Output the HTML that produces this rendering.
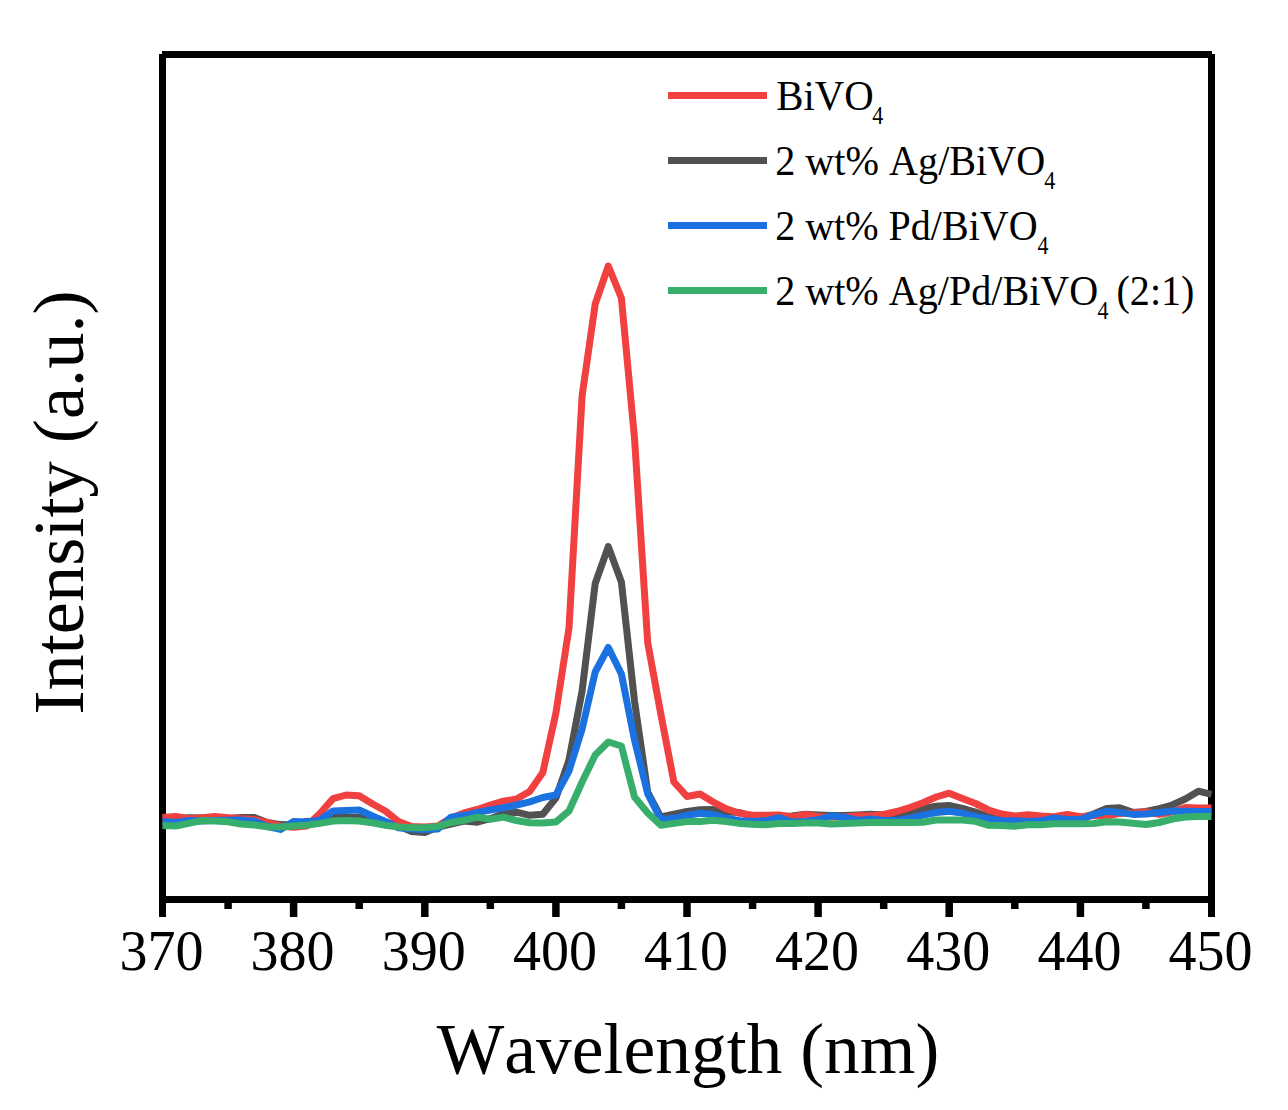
<!DOCTYPE html>
<html><head><meta charset="utf-8"><style>
html,body{margin:0;padding:0;background:#fff;}
svg{display:block;}
text{font-family:"Liberation Serif",serif;fill:#000;font-kerning:none;}
</style></head><body>
<svg width="1288" height="1110" viewBox="0 0 1288 1110">
<rect width="1288" height="1110" fill="#fff"/>
<g stroke="#000" stroke-width="7" fill="none">
<line x1="162" y1="54.5" x2="1212" y2="54.5"/>
<line x1="162" y1="899.5" x2="1212" y2="899.5"/>
<line x1="162.5" y1="54" x2="162.5" y2="917"/>
<line x1="1211.5" y1="54" x2="1211.5" y2="917"/>
</g>
<line x1="228.1" y1="899" x2="228.1" y2="909" stroke="#000" stroke-width="7.5"/><line x1="293.6" y1="899" x2="293.6" y2="917" stroke="#000" stroke-width="7.5"/><line x1="359.2" y1="899" x2="359.2" y2="909" stroke="#000" stroke-width="7.5"/><line x1="424.8" y1="899" x2="424.8" y2="917" stroke="#000" stroke-width="7.5"/><line x1="490.3" y1="899" x2="490.3" y2="909" stroke="#000" stroke-width="7.5"/><line x1="555.9" y1="899" x2="555.9" y2="917" stroke="#000" stroke-width="7.5"/><line x1="621.4" y1="899" x2="621.4" y2="909" stroke="#000" stroke-width="7.5"/><line x1="687.0" y1="899" x2="687.0" y2="917" stroke="#000" stroke-width="7.5"/><line x1="752.6" y1="899" x2="752.6" y2="909" stroke="#000" stroke-width="7.5"/><line x1="818.1" y1="899" x2="818.1" y2="917" stroke="#000" stroke-width="7.5"/><line x1="883.7" y1="899" x2="883.7" y2="909" stroke="#000" stroke-width="7.5"/><line x1="949.2" y1="899" x2="949.2" y2="917" stroke="#000" stroke-width="7.5"/><line x1="1014.8" y1="899" x2="1014.8" y2="909" stroke="#000" stroke-width="7.5"/><line x1="1080.4" y1="899" x2="1080.4" y2="917" stroke="#000" stroke-width="7.5"/><line x1="1145.9" y1="899" x2="1145.9" y2="909" stroke="#000" stroke-width="7.5"/>
<g font-size="56"><text x="161.5" y="970" text-anchor="middle">370</text><text x="292.6" y="970" text-anchor="middle">380</text><text x="423.8" y="970" text-anchor="middle">390</text><text x="554.9" y="970" text-anchor="middle">400</text><text x="686.0" y="970" text-anchor="middle">410</text><text x="817.1" y="970" text-anchor="middle">420</text><text x="948.2" y="970" text-anchor="middle">430</text><text x="1079.4" y="970" text-anchor="middle">440</text><text x="1210.5" y="970" text-anchor="middle">450</text></g>
<polyline points="162.5,819.0 175.6,819.0 188.7,817.7 201.8,818.0 214.9,818.0 228.1,818.5 241.2,817.5 254.3,817.6 267.4,822.5 280.5,824.6 293.6,825.0 306.7,821.5 319.9,821.0 333.0,817.6 346.1,817.6 359.2,817.6 372.3,819.0 385.4,822.0 398.5,826.0 411.6,831.5 424.8,832.4 437.9,827.0 451.0,824.0 464.1,821.0 477.2,822.2 490.3,818.7 503.4,813.7 516.5,812.2 529.7,815.3 542.8,814.3 555.9,798.0 569.0,760.0 582.1,691.0 595.2,583.5 608.3,546.6 621.4,582.0 634.5,701.0 647.7,792.0 660.8,817.0 673.9,814.3 687.0,811.5 700.1,809.8 713.2,809.6 726.3,812.0 739.5,812.5 752.6,816.5 765.7,816.5 778.8,816.5 791.9,816.0 805.0,814.3 818.1,815.0 831.2,815.6 844.4,815.6 857.5,815.0 870.6,814.3 883.7,815.0 896.8,816.0 909.9,813.1 923.0,808.8 936.1,806.3 949.2,805.4 962.4,808.3 975.5,812.0 988.6,817.0 1001.7,818.0 1014.8,818.5 1027.9,818.5 1041.0,818.5 1054.2,818.0 1067.3,818.0 1080.4,818.0 1093.5,814.0 1106.6,808.6 1119.7,807.8 1132.8,812.4 1145.9,811.4 1159.1,808.6 1172.2,805.0 1185.3,799.0 1198.4,791.2 1211.5,794.4" fill="none" stroke="#515151" stroke-width="7" stroke-linejoin="round" stroke-linecap="butt"/>
<polyline points="162.5,817.4 175.6,816.5 188.7,818.7 201.8,817.7 214.9,816.5 228.1,817.7 241.2,818.7 254.3,819.6 267.4,822.4 280.5,826.0 293.6,827.3 306.7,826.0 319.9,813.5 333.0,798.6 346.1,795.0 359.2,795.7 372.3,803.8 385.4,811.0 398.5,821.5 411.6,826.5 424.8,827.0 437.9,826.0 451.0,818.0 464.1,813.0 477.2,809.5 490.3,805.0 503.4,801.2 516.5,799.0 529.7,791.5 542.8,772.5 555.9,713.0 569.0,628.0 582.1,396.0 595.2,304.0 608.3,266.0 621.4,298.0 634.5,438.0 647.7,642.7 660.8,714.0 673.9,782.0 687.0,796.5 700.1,794.0 713.2,802.0 726.3,808.8 739.5,813.3 752.6,815.2 765.7,815.2 778.8,815.0 791.9,817.0 805.0,814.5 818.1,816.5 831.2,817.0 844.4,817.0 857.5,815.8 870.6,815.8 883.7,814.5 896.8,811.5 909.9,807.5 923.0,802.8 936.1,797.0 949.2,793.2 962.4,798.5 975.5,803.5 988.6,810.0 1001.7,814.0 1014.8,816.0 1027.9,814.8 1041.0,816.0 1054.2,816.7 1067.3,814.5 1080.4,816.8 1093.5,815.5 1106.6,816.0 1119.7,813.4 1132.8,813.0 1145.9,812.0 1159.1,814.4 1172.2,812.0 1185.3,807.5 1198.4,808.0 1211.5,808.0" fill="none" stroke="#F04040" stroke-width="7" stroke-linejoin="round" stroke-linecap="butt"/>
<polyline points="162.5,821.5 175.6,822.4 188.7,820.5 201.8,821.0 214.9,820.5 228.1,820.2 241.2,820.1 254.3,821.2 267.4,826.5 280.5,829.4 293.6,821.5 306.7,822.1 319.9,820.0 333.0,811.0 346.1,810.6 359.2,810.0 372.3,816.0 385.4,821.5 398.5,827.8 411.6,829.0 424.8,829.6 437.9,829.0 451.0,817.1 464.1,815.3 477.2,812.4 490.3,810.0 503.4,807.8 516.5,805.0 529.7,801.9 542.8,797.5 555.9,795.0 569.0,771.0 582.1,729.0 595.2,672.0 608.3,647.5 621.4,674.0 634.5,740.0 647.7,793.6 660.8,819.5 673.9,818.3 687.0,815.2 700.1,813.3 713.2,814.5 726.3,818.3 739.5,820.8 752.6,821.4 765.7,820.8 778.8,817.7 791.9,822.0 805.0,821.4 818.1,819.8 831.2,815.8 844.4,817.2 857.5,820.5 870.6,818.9 883.7,820.5 896.8,820.5 909.9,818.1 923.0,815.2 936.1,812.5 949.2,811.2 962.4,813.1 975.5,816.6 988.6,818.7 1001.7,820.8 1014.8,820.8 1027.9,821.4 1041.0,820.8 1054.2,818.0 1067.3,819.5 1080.4,819.5 1093.5,814.6 1106.6,811.3 1119.7,812.4 1132.8,814.4 1145.9,814.1 1159.1,812.6 1172.2,811.1 1185.3,811.3 1198.4,811.5 1211.5,811.5" fill="none" stroke="#1A71DF" stroke-width="7" stroke-linejoin="round" stroke-linecap="butt"/>
<polyline points="162.5,825.4 175.6,826.0 188.7,823.4 201.8,820.6 214.9,820.9 228.1,821.7 241.2,824.0 254.3,825.0 267.4,826.7 280.5,827.0 293.6,826.1 306.7,825.2 319.9,823.4 333.0,821.0 346.1,820.4 359.2,821.0 372.3,822.8 385.4,825.3 398.5,827.0 411.6,827.8 424.8,827.8 437.9,826.4 451.0,822.5 464.1,820.3 477.2,817.1 490.3,819.3 503.4,817.1 516.5,820.5 529.7,822.7 542.8,822.9 555.9,822.0 569.0,811.0 582.1,782.0 595.2,755.0 608.3,742.0 621.4,746.0 634.5,797.0 647.7,813.0 660.8,825.3 673.9,823.4 687.0,821.6 700.1,821.6 713.2,820.3 726.3,821.6 739.5,823.4 752.6,824.2 765.7,824.7 778.8,823.4 791.9,823.5 805.0,823.0 818.1,823.0 831.2,824.0 844.4,823.4 857.5,823.0 870.6,822.4 883.7,822.4 896.8,822.4 909.9,822.4 923.0,822.2 936.1,820.0 949.2,820.0 962.4,820.0 975.5,821.3 988.6,825.3 1001.7,825.6 1014.8,826.2 1027.9,824.7 1041.0,824.7 1054.2,823.7 1067.3,823.7 1080.4,823.7 1093.5,823.5 1106.6,821.7 1119.7,822.0 1132.8,823.2 1145.9,824.5 1159.1,822.5 1172.2,819.0 1185.3,817.0 1198.4,816.4 1211.5,816.4" fill="none" stroke="#38AE6C" stroke-width="7" stroke-linejoin="round" stroke-linecap="butt"/>
<line x1="668" y1="95.5" x2="767" y2="95.5" stroke="#F04040" stroke-width="7"/><text transform="translate(776.2,110) scale(0.972,1)" x="0" y="0" font-size="42">BiVO</text><text transform="translate(872.3,124) scale(0.9,1)" x="0" y="0" font-size="24.5">4</text><line x1="668" y1="160.5" x2="767" y2="160.5" stroke="#515151" stroke-width="7"/><text transform="translate(775.2,175) scale(0.957,1)" x="0" y="0" font-size="42">2 wt% Ag/BiVO</text><text transform="translate(1044.3,189) scale(0.9,1)" x="0" y="0" font-size="24.5">4</text><line x1="668" y1="225.5" x2="767" y2="225.5" stroke="#1A71DF" stroke-width="7"/><text transform="translate(775.2,240) scale(0.953,1)" x="0" y="0" font-size="42">2 wt% Pd/BiVO</text><text transform="translate(1037.5,254) scale(0.9,1)" x="0" y="0" font-size="24.5">4</text><line x1="668" y1="290.5" x2="767" y2="290.5" stroke="#38AE6C" stroke-width="7"/><text transform="translate(775.2,305) scale(0.955,1)" x="0" y="0" font-size="42">2 wt% Ag/Pd/BiVO</text><text transform="translate(1097.5,319) scale(0.9,1)" x="0" y="0" font-size="24.5">4</text><text transform="translate(1116.5,305) scale(0.955,1)" x="0" y="0" font-size="42">(2:1)</text>
<text transform="translate(688,1073) scale(0.988,1)" x="0" y="0" font-size="72.4" text-anchor="middle">Wavelength (nm)</text>
<text transform="translate(83,502.5) rotate(-90) scale(1.0,1)" font-size="72.4" text-anchor="middle">Intensity (a.u.)</text>
</svg>
</body></html>
